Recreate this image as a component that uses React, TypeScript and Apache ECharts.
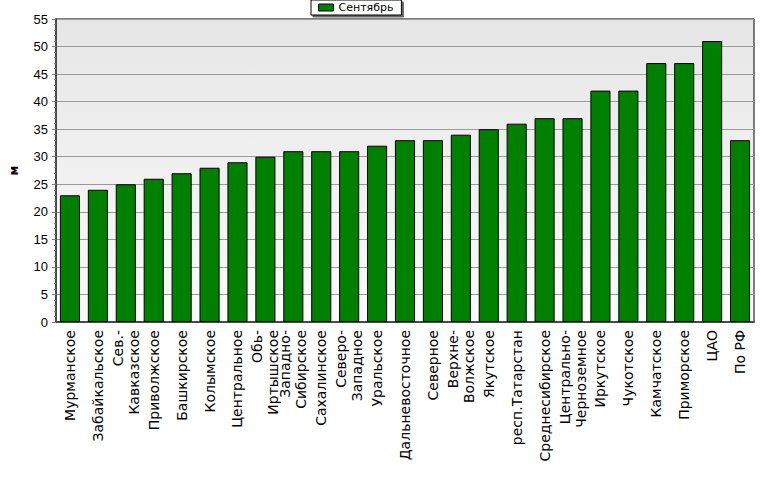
import React, { useEffect, useRef } from "react";
import * as echarts from "echarts";

const categories = [
  "Мурманское",
  "Забайкальское",
  "Сев.-\nКавказское",
  "Приволжское",
  "Башкирское",
  "Колымское",
  "Центральное",
  "Обь-\nИртышское",
  "Западно-\nСибирское",
  "Сахалинское",
  "Северо-\nЗападное",
  "Уральское",
  "Дальневосточное",
  "Северное",
  "Верхне-\nВолжское",
  "Якутское",
  "респ.Татарстан",
  "Среднесибирское",
  "Центрально-\nЧерноземное",
  "Иркутское",
  "Чукотское",
  "Камчатское",
  "Приморское",
  "ЦАО",
  "По РФ",
];

const septemberValues = [
  23, 24, 25, 26, 27, 28, 29, 30, 31, 31, 31, 32, 33, 33, 34, 35, 36, 37, 37, 42,
  42, 47, 47, 51, 33,
];

const seriesName = "Сентябрь";
const yAxisName = "м";
const yMin = 0;
const yMax = 55;
const yInterval = 5;

export default function App() {
  const ref = useRef<HTMLDivElement>(null);

  useEffect(() => {
    if (!ref.current) return;
    const chart = echarts.init(ref.current, undefined, { renderer: "svg" });
    chart.setOption({
      animation: false,
      backgroundColor: "#ffffff",
      textStyle: { fontFamily: "Liberation Sans" },
      legend: {
        data: [seriesName],
        icon: "rect",
        left: 311,
        top: 0,
        padding: [2, 8, 2, 7],
        itemWidth: 15,
        itemHeight: 7,
        itemGap: 5,
        backgroundColor: "#ffffff",
        borderColor: "#000000",
        borderWidth: 1,
        borderRadius: 0,
        shadowColor: "rgba(0,0,0,0.6)",
        shadowOffsetX: 2,
        shadowOffsetY: 2,
        shadowBlur: 0,
        textStyle: {
          fontFamily: "DejaVu Sans",
          fontSize: 11,
          color: "#000000",
          padding: [0, 0, 0, 0],
        },
        itemStyle: { borderColor: "#000000", borderWidth: 1 },
      },
      grid: {
        left: 51,
        right: 23,
        top: 19,
        bottom: 157,
        show: true,
        borderColor: "#000000",
        borderWidth: 1,
        backgroundColor: new echarts.graphic.LinearGradient(0, 0, 0, 1, [
          { offset: 0, color: "#e6e6e6" },
          { offset: 1, color: "#fbfbfb" },
        ]),
      },
      xAxis: {
        type: "category",
        data: categories,
        axisLine: { lineStyle: { color: "#4a4a4a", width: 2 } },
        axisTick: {
          alignWithLabel: true,
          length: 5,
          lineStyle: { color: "#808080" },
        },
        axisLabel: {
          interval: 0,
          rotate: 90,
          margin: 8,
          fontFamily: "DejaVu Sans",
          fontSize: 14,
          lineHeight: 16,
          color: "#000000",
        },
      },
      yAxis: {
        type: "value",
        min: yMin,
        max: yMax,
        interval: yInterval,
        name: yAxisName,
        nameLocation: "middle",
        nameRotate: 90,
        nameGap: 36,
        nameTextStyle: {
          fontFamily: "DejaVu Sans",
          fontWeight: "bold",
          fontSize: 12,
          color: "#000000",
        },
        axisLine: { show: true, lineStyle: { color: "#4a4a4a", width: 2 } },
        axisTick: { show: true, length: 4, lineStyle: { color: "#808080" } },
        minorTick: {
          show: true,
          splitNumber: 5,
          length: 2,
          lineStyle: { color: "#808080" },
        },
        axisLabel: {
          margin: 8,
          fontFamily: "Liberation Sans",
          fontSize: 13,
          color: "#000000",
        },
        splitLine: { lineStyle: { color: "#9a9a9a", width: 1 } },
      },
      series: [
        {
          name: seriesName,
          type: "bar",
          data: septemberValues,
          barWidth: "72%",
          itemStyle: {
            color: "#008000",
            borderColor: "#000000",
            borderWidth: 1,
          },
        },
      ],
    });
    return () => chart.dispose();
  }, []);

  return (
    <div
      ref={ref}
      style={{ position: "absolute", left: 0, top: 0, width: 777, height: 479 }}
    />
  );
}
